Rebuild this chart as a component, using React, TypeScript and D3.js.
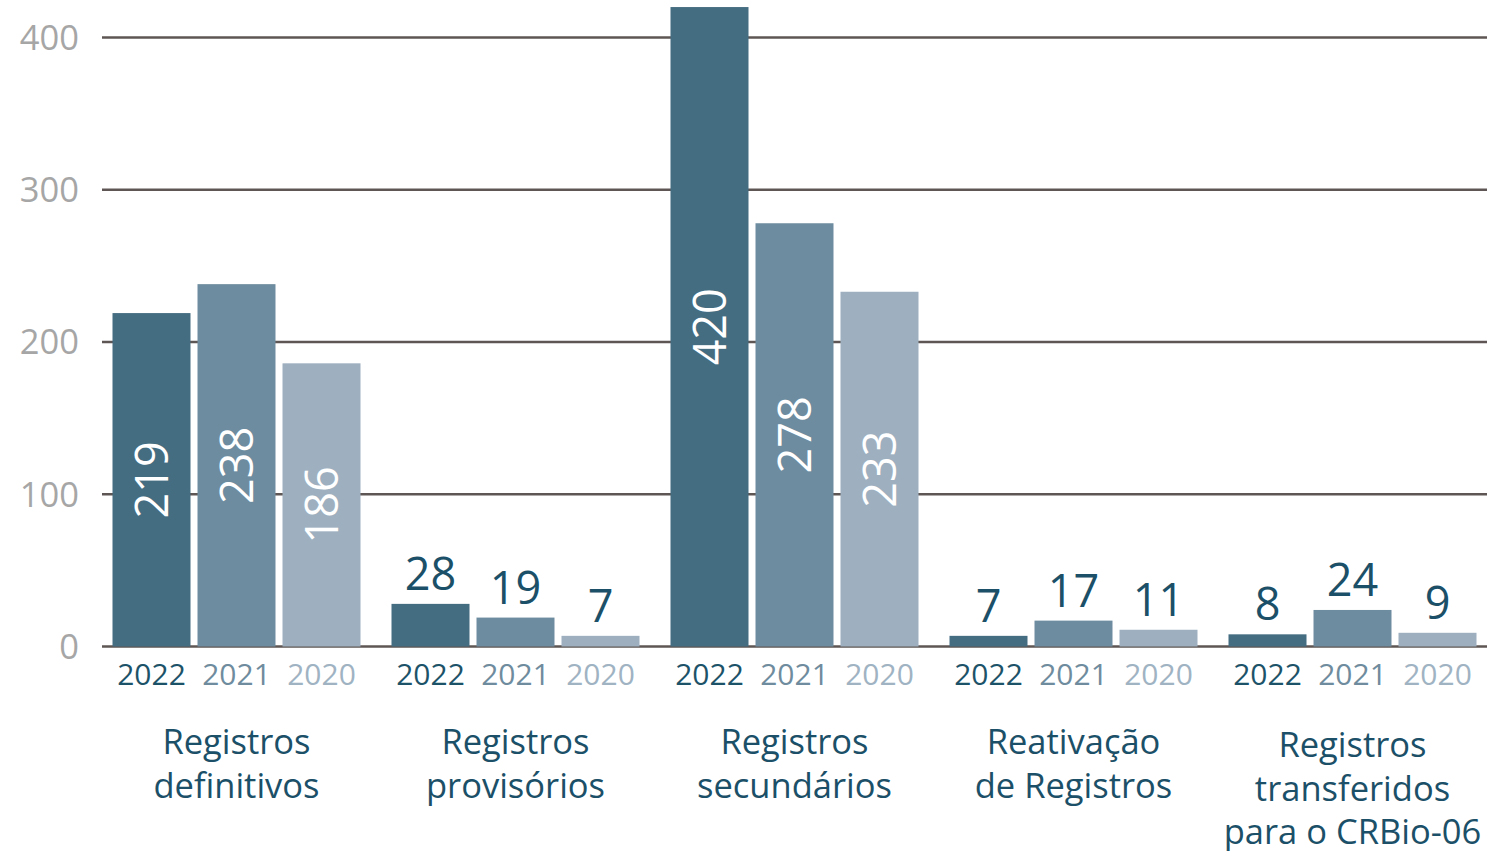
import React from "react";
import * as d3 from "d3";

const categories: string[][] = [
  ["Registros", "definitivos"],
  ["Registros", "provisórios"],
  ["Registros", "secundários"],
  ["Reativação", "de Registros"],
  ["Registros", "transferidos", "para o CRBio-06"],
];
const years = ["2022", "2021", "2020"];
const values2022 = [219, 28, 420, 7, 8];
const values2021 = [238, 19, 278, 17, 24];
const values2020 = [186, 7, 233, 11, 9];
const yTicks = [0, 100, 200, 300, 400];

const seriesByYear: Record<string, number[]> = {
  "2022": values2022,
  "2021": values2021,
  "2020": values2020,
};

const barColors: Record<string, string> = {
  "2022": "#456d82",
  "2021": "#6e8c9f",
  "2020": "#9eb0c0",
};
const yearTextColors: Record<string, string> = {
  "2022": "#1d5369",
  "2021": "#6f8c9e",
  "2020": "#a0b3c3",
};
const TEXT = "#1b5068";
const FONT = "'Open Sans', 'Noto Sans', sans-serif";

export default function App() {
  const W = 1494;
  const H = 851;
  const idx = categories.map((_, i) => String(i));
  const x = d3.scaleBand<string>().domain(idx).range([97, 1492]).padding(0);
  const xi = d3
    .scaleBand<string>()
    .domain(years)
    .range([15.5, 263.5])
    .paddingInner(7 / 85)
    .paddingOuter(0);
  const y = d3.scaleLinear().domain([0, 400]).range([646.5, 37.5]);

  return (
    <div style={{ position: "absolute", left: 0, top: 0 }}>
      <svg width={W} height={H} style={{ display: "block", fontFamily: FONT }}>
        <rect width={W} height={H} fill="#ffffff" />
        {yTicks.map((t) => (
          <g key={t}>
            <line x1={102} x2={1487} y1={y(t)} y2={y(t)} stroke="#5e5654" strokeWidth={2.5} />
            <text
              x={79}
              y={y(t)}
              dy="0.36em"
              textAnchor="end"
              fontSize={34.5}
              fill="#a6a6a6"
            >
              {t}
            </text>
          </g>
        ))}
        {idx.map((c, ci) => {
          const gx = x(c)!;
          return (
            <g key={c}>
              {years.map((yr) => {
                const v = seriesByYear[yr][ci];
                const bx = gx + xi(yr)!;
                const bw = xi.bandwidth();
                const top = y(v);
                const cx = bx + bw / 2;
                return (
                  <g key={yr}>
                    <rect x={bx} y={top} width={bw} height={y(0) - top} fill={barColors[yr]} />
                    {v > 100 ? (
                      <text
                        transform={`translate(${cx},${(top + y(0)) / 2}) rotate(-90)`}
                        textAnchor="middle"
                        dy="0.36em"
                        fontSize={45}
                        fill="#ffffff"
                      >
                        {v}
                      </text>
                    ) : (
                      <text x={cx} y={top - 14} textAnchor="middle" fontSize={45} fill={TEXT}>
                        {v}
                      </text>
                    )}
                    <text
                      x={cx}
                      y={674}
                      dy="0.36em"
                      textAnchor="middle"
                      fontSize={30}
                      fill={yearTextColors[yr]}
                    >
                      {yr}
                    </text>
                  </g>
                );
              })}
              {categories[ci].map((line, li) => (
                <text
                  key={li}
                  x={gx + x.bandwidth() / 2}
                  y={(categories[ci].length > 2 ? 745 : 742) + li * 43.5}
                  dy="0.36em"
                  textAnchor="middle"
                  fontSize={34.5}
                  fill={TEXT}
                >
                  {line}
                </text>
              ))}
            </g>
          );
        })}
      </svg>
    </div>
  );
}
